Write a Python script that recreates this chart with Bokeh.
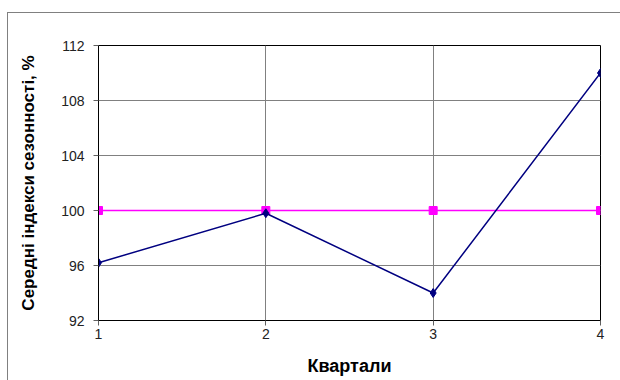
from bokeh.plotting import figure
from bokeh.models import FixedTicker, Range1d, InlineStyleSheet
from bokeh.embed import file_html
from bokeh.resources import INLINE

quarters = [1, 2, 3, 4]
seasonal_index = [96.2, 99.8, 94.0, 110.0]
base_level = [100, 100, 100, 100]
x_ticks = [1, 2, 3, 4]
y_ticks = [92, 96, 100, 104, 108, 112]
x_title = "Квартали"
y_title = "Середні індекси сезонності, %"

FONT = "Liberation Sans"

p = figure(width=620, height=380, output_backend="svg", toolbar_location=None,
           x_range=Range1d(1, 4), y_range=Range1d(92, 112),
           min_border_left=98, min_border_right=20, min_border_top=45, min_border_bottom=60)
p.background_fill_color = "white"
p.border_fill_color = "white"
p.outline_line_color = "black"
p.outline_line_width = 1

# outer chart border (cropped on the right/bottom)
p.stylesheets = [InlineStyleSheet(css=(
    ":host{position:relative;}"
    ":host::after{content:'';position:absolute;left:7px;top:12px;right:0;bottom:0;"
    "border-top:1px solid #808080;border-left:1px solid #808080;pointer-events:none;z-index:10;}"
))]

p.xaxis.ticker = FixedTicker(ticks=x_ticks)
p.yaxis.ticker = FixedTicker(ticks=y_ticks)
p.xgrid.ticker = FixedTicker(ticks=x_ticks)
p.ygrid.ticker = FixedTicker(ticks=y_ticks)
p.grid.grid_line_color = "#808080"
p.grid.grid_line_width = 1

for ax in (p.xaxis, p.yaxis):
    ax.axis_line_color = "black"
    ax.major_tick_line_color = "#606060"
    ax.major_tick_in = 0
    ax.major_tick_out = 5
    ax.minor_tick_line_color = None
    ax.major_label_text_font = FONT
    ax.major_label_text_font_size = "14px"
    ax.major_label_text_color = "#222222"
    ax.axis_label_text_font = FONT
    ax.axis_label_text_font_style = "bold"
    ax.axis_label_text_color = "black"

p.xaxis.axis_label_text_font_size = "18px"
p.yaxis.axis_label_text_font_size = "17px"
p.xaxis.axis_label = x_title
p.yaxis.axis_label = y_title
p.xaxis.major_label_standoff = 3
p.yaxis.major_label_standoff = 9
p.xaxis.axis_label_standoff = 14
p.yaxis.axis_label_standoff = 20

p.line(quarters, base_level, line_color="#FF00FF", line_width=1.5)
p.scatter(quarters, base_level, marker="square", size=8, fill_color="#FF00FF", line_color="#FF00FF")

p.line(quarters, seasonal_index, line_color="#000080", line_width=1.5)
p.scatter(quarters, seasonal_index, marker="diamond", size=9, fill_color="#000080", line_color="#000080")

open("out.html", "w").write(file_html(p, INLINE))
